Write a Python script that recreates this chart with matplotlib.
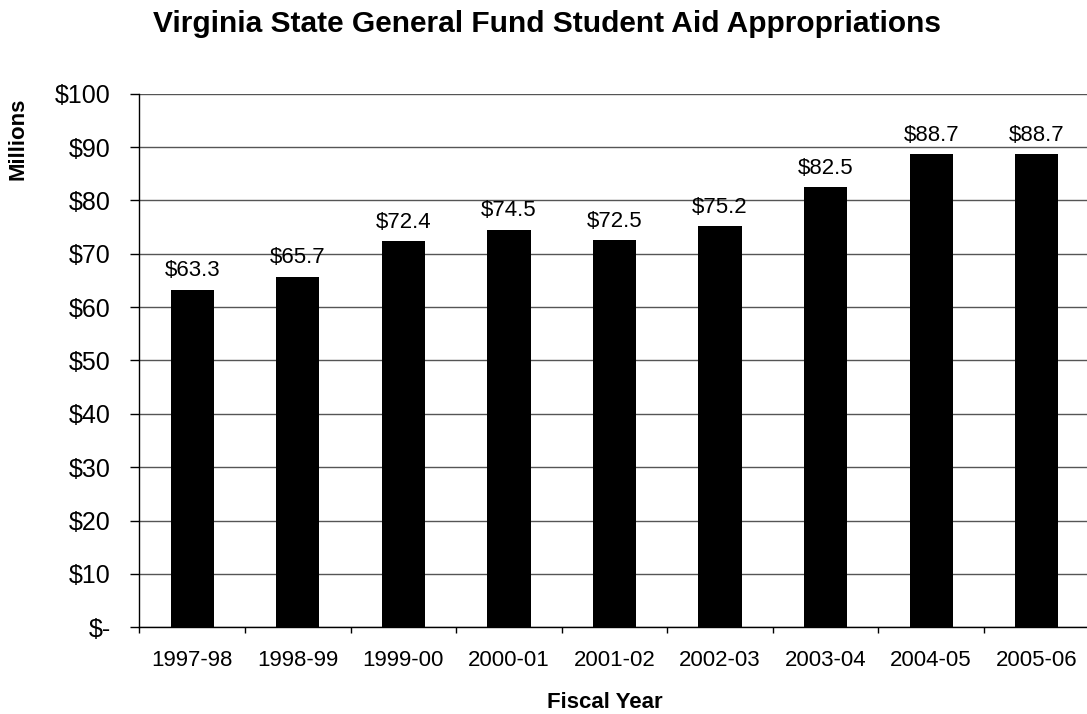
import numpy as np
import matplotlib.pyplot as plt
from matplotlib.ticker import FuncFormatter

plt.rcParams['font.family'] = ['Liberation Sans', 'DejaVu Sans']

years = ["1997-98", "1998-99", "1999-00", "2000-01", "2001-02",
         "2002-03", "2003-04", "2004-05", "2005-06"]
aid = [63.3, 65.7, 72.4, 74.5, 72.5, 75.2, 82.5, 88.7, 88.7]
yticks = list(range(0, 101, 10))

fig = plt.figure(figsize=(10.87, 7.14), dpi=100)
ax = fig.add_axes([0.1283, 0.1214, 0.874, 0.7474])

x = np.arange(len(years))
ax.bar(x, aid, width=0.41, color="black", zorder=3)

for xi, v in zip(x, aid):
    ax.annotate(f"${v:.1f}", (xi, v), xytext=(0, 6), textcoords="offset points",
                ha="center", va="bottom", fontsize=16)

ax.set_xlim(-0.5, len(years) - 0.5)
ax.set_ylim(0, 100)
ax.set_yticks(yticks)
ax.yaxis.set_major_formatter(FuncFormatter(lambda v, p: "$-" if v == 0 else f"${v:.0f}"))
ax.yaxis.grid(True, color="#555555", linewidth=1, zorder=0)

ax.set_xticks(np.arange(len(years) + 1) - 0.5)
ax.set_xticklabels([])
ax.set_xticks(x, minor=True)
ax.set_xticklabels(years, minor=True)
ax.tick_params(axis="x", which="major", length=4.5, width=1, direction="out")
ax.tick_params(axis="x", which="minor", length=0, pad=16, labelsize=16)
ax.tick_params(axis="y", length=6.5, width=1, pad=14, labelsize=18)

for s in ["top", "right"]:
    ax.spines[s].set_visible(False)
ax.spines["left"].set_linewidth(1)
ax.spines["bottom"].set_linewidth(1)

fig.text(0.1408, 0.955, "Virginia State General Fund Student Aid Appropriations",
         ha="left", va="baseline", fontsize=21.5, fontweight="bold")
fig.text(0.0161, 0.806, "Millions", rotation=90, ha="center", va="center",
         fontsize=16, fontweight="bold")
fig.text(0.503, 0.0084, "Fiscal Year", ha="left", va="baseline",
         fontsize=16, fontweight="bold")

fig.savefig("out.png", dpi=100)
